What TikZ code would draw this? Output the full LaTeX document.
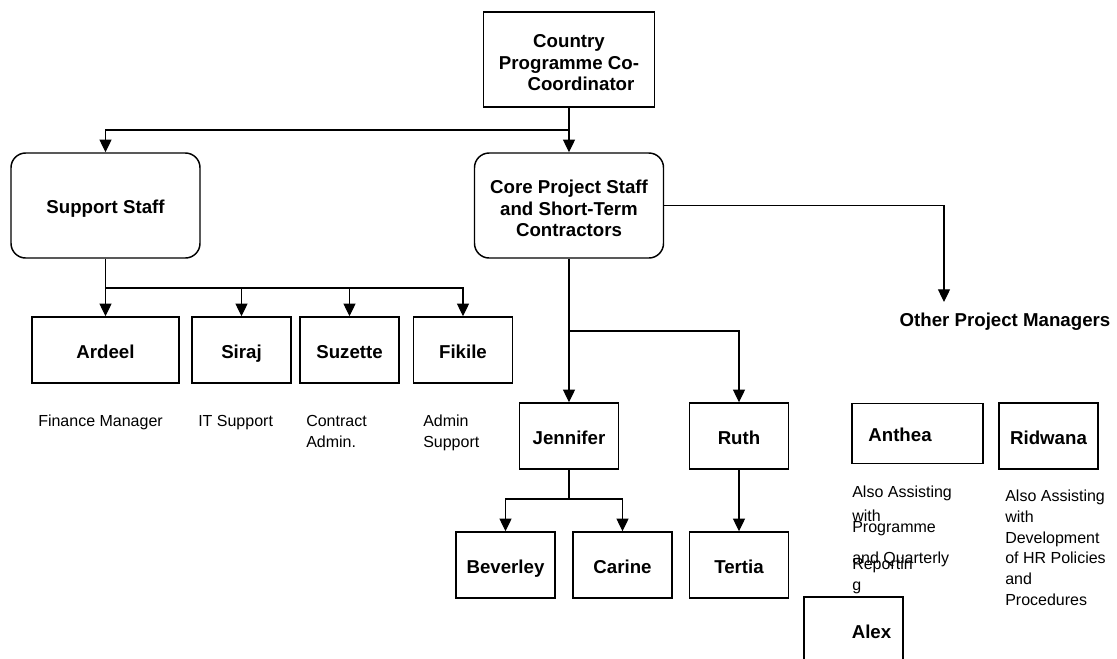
\documentclass[tikz,border=0pt]{standalone}
\usepackage{fontspec}
\setmainfont{Liberation Sans}
\usetikzlibrary{arrows.meta}
\newcommand{\firstline}{\rule{0pt}{14.5pt}}
\begin{document}
\begin{tikzpicture}[x=0.75pt,y=-0.75pt,
  box/.style={draw, line width=1.1pt, inner sep=2pt, align=center,
    font=\fontsize{14}{16.1}\selectfont\bfseries},
  oneline/.style={text height=12.2pt, text depth=0pt},
  roundbox/.style={box, rounded corners=11pt},
  bigbox/.style={box, minimum width=141.75pt, minimum height=78.75pt},
  smallbox/.style={box, oneline, minimum width=74.5pt, minimum height=49.5pt},
  title/.style={inner sep=0pt, text height=10.2pt, text depth=2.9pt,
    font=\fontsize{14}{16.1}\selectfont\bfseries},
  % multi-line notes are placed by the baseline of their last line
  note/.style={inner sep=0pt, align=left, anchor=base west,
    font=\fontsize{12}{15.5}\selectfont},
  conn/.style={line width=0.9pt},
  arr/.style={conn, -{Triangle[length=9.5pt,width=9pt]}},
]
% page area
\clip (0,0) rectangle (1117,658);
\fill[white] (0,0) rectangle (1117,658);

% top level
\node[box, minimum width=128.25pt, minimum height=71.25pt] (top) at (569,59.5)
  {\firstline Country\\Programme Co-\\\hspace*{18pt}Coordinator};

% second level
\node[roundbox, bigbox, oneline] (supp) at (105.5,205.5) {Support Staff};
\node[roundbox, bigbox] (core) at (569,205.5)
  {\firstline Core Project Staff\\and Short-Term\\Contractors};
\node[title] (opm) at (1005,322) {Other Project Managers};
\coordinate (opmtip) at (944,302);

% support staff
\node[box, oneline, minimum width=110.25pt, minimum height=49.5pt] (ardeel) at (105.5,350) {Ardeel};
\node[smallbox] (siraj) at (241.5,350) {Siraj};
\node[smallbox] (suzette) at (349.5,350) {Suzette};
\node[smallbox] (fikile) at (463,350) {Fikile};

\node[note] (tfin) at (38,426) {Finance Manager};
\node[note] (tit) at (198,426) {IT Support};
\node[note] (tcon) at (306,447) {Contract\\Admin.};
\node[note] (tadm) at (423,447) {Admin\\Support};

% project staff
\node[smallbox] (jennifer) at (569,436) {Jennifer};
\node[smallbox] (ruth) at (739,436) {Ruth};
\node[smallbox] (beverley) at (505.5,565) {Beverley};
\node[smallbox] (carine) at (622.5,565) {Carine};
\node[smallbox] (tertia) at (739,565) {Tertia};

% other project managers
\node[box, minimum width=98.25pt, minimum height=45pt] (anthea) at (917.5,433.5) {};
\node[title] (tanthea) at (900,437) {Anthea};
\node[smallbox] (ridwana) at (1048.5,436) {Ridwana};
\node[smallbox] (alex) at (853.5,630) {};
\node[title] (talex) at (871.5,634) {Alex};

\node[note] (a1) at (852,497) {Also Assisting};
\node[note] (a2) at (852,521) {with};
\node[note] (a3) at (852,532) {Programme};
\node[note] (a4) at (852,563) {and Quarterly};
\node[note] (a5) at (852,569) {Reportin};
\node[note] (a6) at (852,590) {g};

\node[note] (tridwana) at (1005,605)
  {Also Assisting\\with\\Development\\of HR Policies\\and\\Procedures};

% junction points
\coordinate (j1) at (569,130);
\coordinate (j2) at (105.5,288);
\coordinate (j3) at (569,331);
\coordinate (j4) at (569,499);

% connectors
\draw[arr] (top) -- (core);
\draw[arr] (j1) -| (supp);
\draw[arr] (core.east) -| (opmtip);

\draw[arr] (supp) -- (ardeel);
\foreach \n in {siraj,suzette,fikile}
  \draw[arr] (j2) -| (\n);

\draw[arr] (core) -- (jennifer);
\draw[arr] (j3) -| (ruth);

\draw[conn] (jennifer) -- (j4);
\draw[arr] (j4) -| (beverley);
\draw[arr] (j4) -| (carine);
\draw[arr] (ruth) -- (tertia);
\end{tikzpicture}
\end{document}
